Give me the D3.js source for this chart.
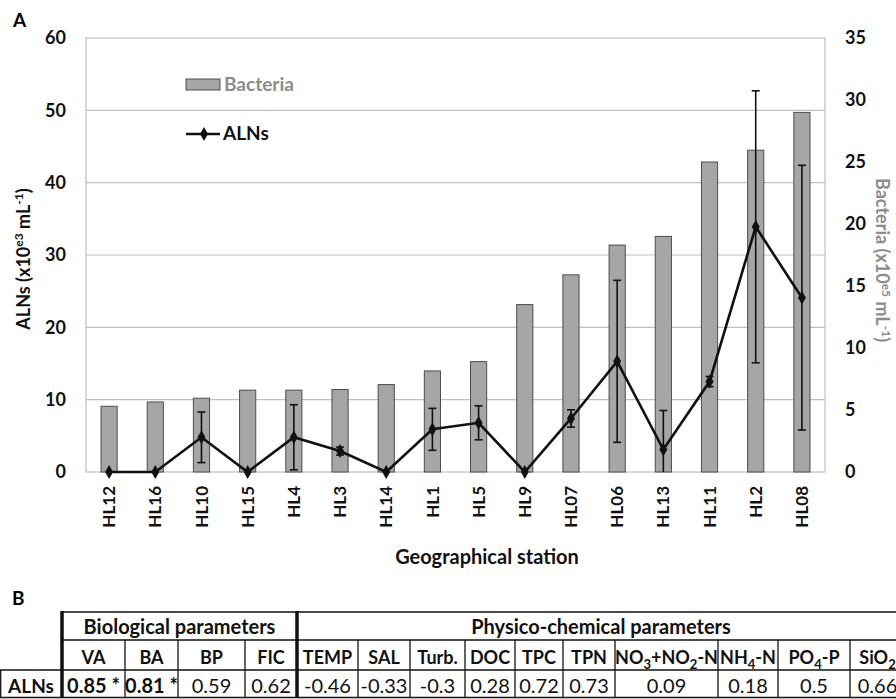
<!DOCTYPE html>
<html>
<head>
<meta charset="utf-8">
<script src="https://cdn.jsdelivr.net/npm/d3@7"></script>
<style>
  body { margin: 0; background: #fff; }
  svg { display: block; font-family: Lato, "Open Sans", sans-serif; }
</style>
</head>
<body>
<svg id="fig" width="896" height="699"></svg>
<script>
// Estaciones y valores
const estaciones = ['HL12', 'HL16', 'HL10', 'HL15', 'HL4', 'HL3', 'HL14', 'HL1', 'HL5', 'HL9', 'HL07', 'HL06', 'HL13', 'HL11', 'HL2', 'HL08'];
const bacterias = [5.3, 5.65, 5.95, 6.6, 6.6, 6.65, 7.05, 8.15, 8.9, 13.5, 15.9, 18.3, 19.0, 25.0, 25.95, 29.0]; // x10e5 mL-1
const alns = [0, 0, 4.8, 0, 4.8, 2.9, 0, 5.9, 6.8, 0, 7.4, 15.3, 3.1, 12.5, 33.9, 24.1]; // x10e3 mL-1
const alnsError = [0, 0, 3.5, 0, 4.5, 0.55, 0, 2.9, 2.35, 0, 1.2, 11.2, 5.4, 0.7, 18.8, 18.3];
const ticksIzq = [0, 10, 20, 30, 40, 50, 60];
const ticksDer = [0, 5, 10, 15, 20, 25, 30, 35];

// Tabla B
const paramBiologicos = ['VA', 'BA', 'BP', 'FIC'];
const valoresBiologicos = ['0.85 *', '0.81 *', '0.59', '0.62'];
const paramFisicoquimicos = ['TEMP', 'SAL', 'Turb.', 'DOC', 'TPC', 'TPN', 'NO|3|+NO|2|-N', 'NH|4|-N', 'PO|4|-P', 'SiO|2|'];
const valoresFisicoquimicos = ['-0.46', '-0.33', '-0.3', '0.28', '0.72', '0.73', '0.09', '0.18', '0.5', '0.66'];
const significativos = ['0.85 *', '0.81 *'];

const GRIS_BARRA = '#a6a6a6';
const GRIS_GRILLA = '#bfbfbf';
const GRIS_TEXTO = '#8c8c8c';

const svg = d3.select('#fig');
const margen = { left: 86, right: 825, top: 38, bottom: 472 };

const x = d3.scaleBand().domain(estaciones).range([margen.left, margen.right]).paddingInner(0.65).paddingOuter(0.325);
const yIzq = d3.scaleLinear().domain([0, 60]).range([margen.bottom, margen.top]);
const yDer = d3.scaleLinear().domain([0, 35]).range([margen.bottom, margen.top]);
const centro = (d) => x(d) + x.bandwidth() / 2;

svg.append('defs').append('clipPath').attr('id', 'recorte')
  .append('rect')
  .attr('x', margen.left).attr('y', margen.top)
  .attr('width', margen.right - margen.left).attr('height', margen.bottom - margen.top);

// grilla
svg.append('g').selectAll('line').data(ticksIzq.slice(1, -1)).join('line')
  .attr('x1', margen.left).attr('x2', margen.right)
  .attr('y1', (d) => yIzq(d)).attr('y2', (d) => yIzq(d))
  .attr('stroke', GRIS_GRILLA).attr('stroke-width', 1.2);

svg.append('rect')
  .attr('x', margen.left).attr('y', margen.top)
  .attr('width', margen.right - margen.left).attr('height', margen.bottom - margen.top)
  .attr('fill', 'none').attr('stroke', GRIS_GRILLA).attr('stroke-width', 1.2);

// barras de bacterias (eje derecho)
svg.append('g').selectAll('rect').data(estaciones).join('rect')
  .attr('x', (d) => x(d)).attr('width', x.bandwidth())
  .attr('y', (d, i) => yDer(bacterias[i]))
  .attr('height', (d, i) => yDer(0) - yDer(bacterias[i]))
  .attr('fill', GRIS_BARRA).attr('stroke', '#4d4d4d').attr('stroke-width', 1);

// barras de error de ALNs
const errores = estaciones.map((d, i) => ({ d, v: alns[i], e: alnsError[i] })).filter((p) => p.e > 0);
const gErr = svg.append('g').attr('clip-path', 'url(#recorte)').attr('stroke', '#111').attr('stroke-width', 1.6);
gErr.selectAll('line.vert').data(errores).join('line').attr('class', 'vert')
  .attr('x1', (p) => centro(p.d)).attr('x2', (p) => centro(p.d))
  .attr('y1', (p) => yIzq(p.v + p.e)).attr('y2', (p) => yIzq(p.v - p.e));
gErr.selectAll('line.cap').data(errores.flatMap((p) => [p.v + p.e, p.v - p.e].map((v) => ({ d: p.d, v })))).join('line').attr('class', 'cap')
  .attr('x1', (p) => centro(p.d) - 4).attr('x2', (p) => centro(p.d) + 4)
  .attr('y1', (p) => yIzq(p.v)).attr('y2', (p) => yIzq(p.v));

// línea ALNs
const linea = d3.line().x((d) => centro(d)).y((d, i) => yIzq(alns[i]));
svg.append('path').datum(estaciones).attr('d', linea)
  .attr('fill', 'none').attr('stroke', '#111').attr('stroke-width', 2.6).attr('stroke-linejoin', 'miter');

const diamante = d3.symbol().type(d3.symbolDiamond).size(55);
svg.append('g').selectAll('path').data(estaciones).join('path')
  .attr('d', diamante)
  .attr('transform', (d, i) => `translate(${centro(d)},${yIzq(alns[i])})`)
  .attr('fill', '#111');

// ejes
const ejeIzq = svg.append('g').attr('transform', `translate(${margen.left},0)`)
  .call(d3.axisLeft(yIzq).tickValues(ticksIzq).tickSize(0).tickPadding(20));
const ejeDer = svg.append('g').attr('transform', `translate(${margen.right},0)`)
  .call(d3.axisRight(yDer).tickValues(ticksDer).tickSize(0).tickPadding(20));
const ejeX = svg.append('g').attr('transform', `translate(0,${margen.bottom})`)
  .call(d3.axisBottom(x).tickSize(0));

[ejeIzq, ejeDer, ejeX].forEach((g) => {
  g.select('.domain').remove();
  g.selectAll('text').attr('font-family', 'Lato, sans-serif').attr('font-weight', 'bold')
    .attr('font-size', 18).attr('fill', '#111');
});
ejeX.selectAll('text')
  .attr('transform', 'rotate(-90)')
  .attr('text-anchor', 'end')
  .attr('x', -14).attr('y', 0).attr('dy', '0.36em')
  .attr('font-size', 17);

// títulos de ejes
const tituloIzq = svg.append('text')
  .attr('transform', `translate(30,${(margen.top + margen.bottom) / 2 + 4}) rotate(-90)`)
  .attr('text-anchor', 'middle').attr('font-size', 18).attr('font-weight', 'bold').attr('fill', '#111');
tituloIzq.append('tspan').text('ALNs (x10');
tituloIzq.append('tspan').text('e3').attr('font-size', 12).attr('dy', -7);
tituloIzq.append('tspan').text(' mL').attr('dy', 7);
tituloIzq.append('tspan').text('-1').attr('font-size', 12).attr('dy', -7);
tituloIzq.append('tspan').text(')').attr('dy', 7);

const tituloDer = svg.append('text')
  .attr('transform', `translate(876,${(margen.top + margen.bottom) / 2 + 5}) rotate(90)`)
  .attr('text-anchor', 'middle').attr('font-size', 18).attr('font-weight', 'bold').attr('fill', GRIS_TEXTO);
tituloDer.append('tspan').text('Bacteria (x10');
tituloDer.append('tspan').text('e5').attr('font-size', 12).attr('dy', -6);
tituloDer.append('tspan').text(' mL').attr('dy', 6);
tituloDer.append('tspan').text('-1').attr('font-size', 12).attr('dy', -6);
tituloDer.append('tspan').text(')').attr('dy', 6);

svg.append('text').attr('x', 487).attr('y', 564).attr('text-anchor', 'middle')
  .attr('font-size', 20).attr('font-weight', 'bold').attr('fill', '#111').text('Geographical station');

svg.append('text').attr('x', 13).attr('y', 27).attr('font-size', 19).attr('font-weight', 'bold').text('A');
svg.append('text').attr('x', 12).attr('y', 605).attr('font-size', 19).attr('font-weight', 'bold').text('B');

// leyenda
const leyenda = svg.append('g');
leyenda.append('rect').attr('x', 186).attr('y', 79).attr('width', 34).attr('height', 11)
  .attr('fill', GRIS_BARRA).attr('stroke', '#4d4d4d').attr('stroke-width', 1);
leyenda.append('text').attr('x', 224).attr('y', 91).attr('font-size', 19).attr('font-weight', 'bold')
  .attr('fill', GRIS_TEXTO).text('Bacteria');
leyenda.append('line').attr('x1', 186).attr('x2', 220).attr('y1', 134).attr('y2', 134)
  .attr('stroke', '#111').attr('stroke-width', 2.6);
leyenda.append('path').attr('d', diamante).attr('transform', 'translate(204,134)').attr('fill', '#111');
leyenda.append('text').attr('x', 223).attr('y', 140).attr('font-size', 19).attr('font-weight', 'bold')
  .attr('fill', '#111').text('ALNs');

// tabla B
const bordesCol = [62, 125, 178, 245, 297, 358, 410, 465, 515, 563, 615, 718, 778, 850, 905];
const filas = [612, 640, 670, 698];
const tabla = svg.append('g').attr('fill', '#111');

function textoConSubindices(sel, etiqueta) {
  etiqueta.split('|').forEach((parte, k) => {
    if (!parte) return;
    const sub = k % 2 === 1;
    sel.append('tspan').text(parte)
      .attr('font-size', sub ? 13 : null)
      .attr('dy', sub ? 5 : (k > 0 ? -5 : 0));
  });
}

const lineasT = tabla.append('g').attr('stroke', '#111').attr('stroke-width', 1.3);
lineasT.append('line').attr('x1', 62).attr('x2', 905).attr('y1', filas[0]).attr('y2', filas[0]);
lineasT.append('line').attr('x1', 62).attr('x2', 905).attr('y1', filas[1]).attr('y2', filas[1]);
lineasT.append('line').attr('x1', 0).attr('x2', 905).attr('y1', filas[2]).attr('y2', filas[2]);
lineasT.append('line').attr('x1', 0).attr('x2', 905).attr('y1', filas[3] - 0.5).attr('y2', filas[3] - 0.5);
lineasT.append('line').attr('x1', 0.7).attr('x2', 0.7).attr('y1', filas[2]).attr('y2', filas[3]);
lineasT.selectAll('line.sub').data(bordesCol.filter((c) => c !== 62 && c !== 297)).join('line')
  .attr('class', 'sub')
  .attr('x1', (c) => c).attr('x2', (c) => c).attr('y1', filas[1]).attr('y2', filas[3]);
lineasT.selectAll('line.gruesa').data([62, 297]).join('line')
  .attr('class', 'gruesa').attr('stroke-width', 3.5)
  .attr('x1', (c) => c).attr('x2', (c) => c).attr('y1', filas[0] - 1).attr('y2', filas[3]);

tabla.append('text').attr('x', (62 + 297) / 2).attr('y', 634).attr('text-anchor', 'middle')
  .attr('font-size', 20).attr('font-weight', 'bold').text('Biological parameters');
tabla.append('text').attr('x', (297 + 905) / 2).attr('y', 634).attr('text-anchor', 'middle')
  .attr('font-size', 20).attr('font-weight', 'bold').text('Physico-chemical parameters');

const columnas = paramBiologicos.concat(paramFisicoquimicos);
const valores = valoresBiologicos.concat(valoresFisicoquimicos);
columnas.forEach((etiqueta, i) => {
  const cx = (bordesCol[i] + bordesCol[i + 1]) / 2;
  const t = tabla.append('text').attr('x', cx).attr('y', 664).attr('text-anchor', 'middle')
    .attr('font-size', 18).attr('font-weight', 'bold');
  textoConSubindices(t, etiqueta);
  tabla.append('text').attr('x', cx).attr('y', 693).attr('text-anchor', 'middle')
    .attr('font-size', 20)
    .attr('font-weight', significativos.includes(valores[i]) ? 'bold' : 'normal')
    .text(valores[i]);
});
tabla.append('text').attr('x', 31).attr('y', 693).attr('text-anchor', 'middle')
  .attr('font-size', 19).attr('font-weight', 'bold').text('ALNs');
</script>
</body>
</html>
